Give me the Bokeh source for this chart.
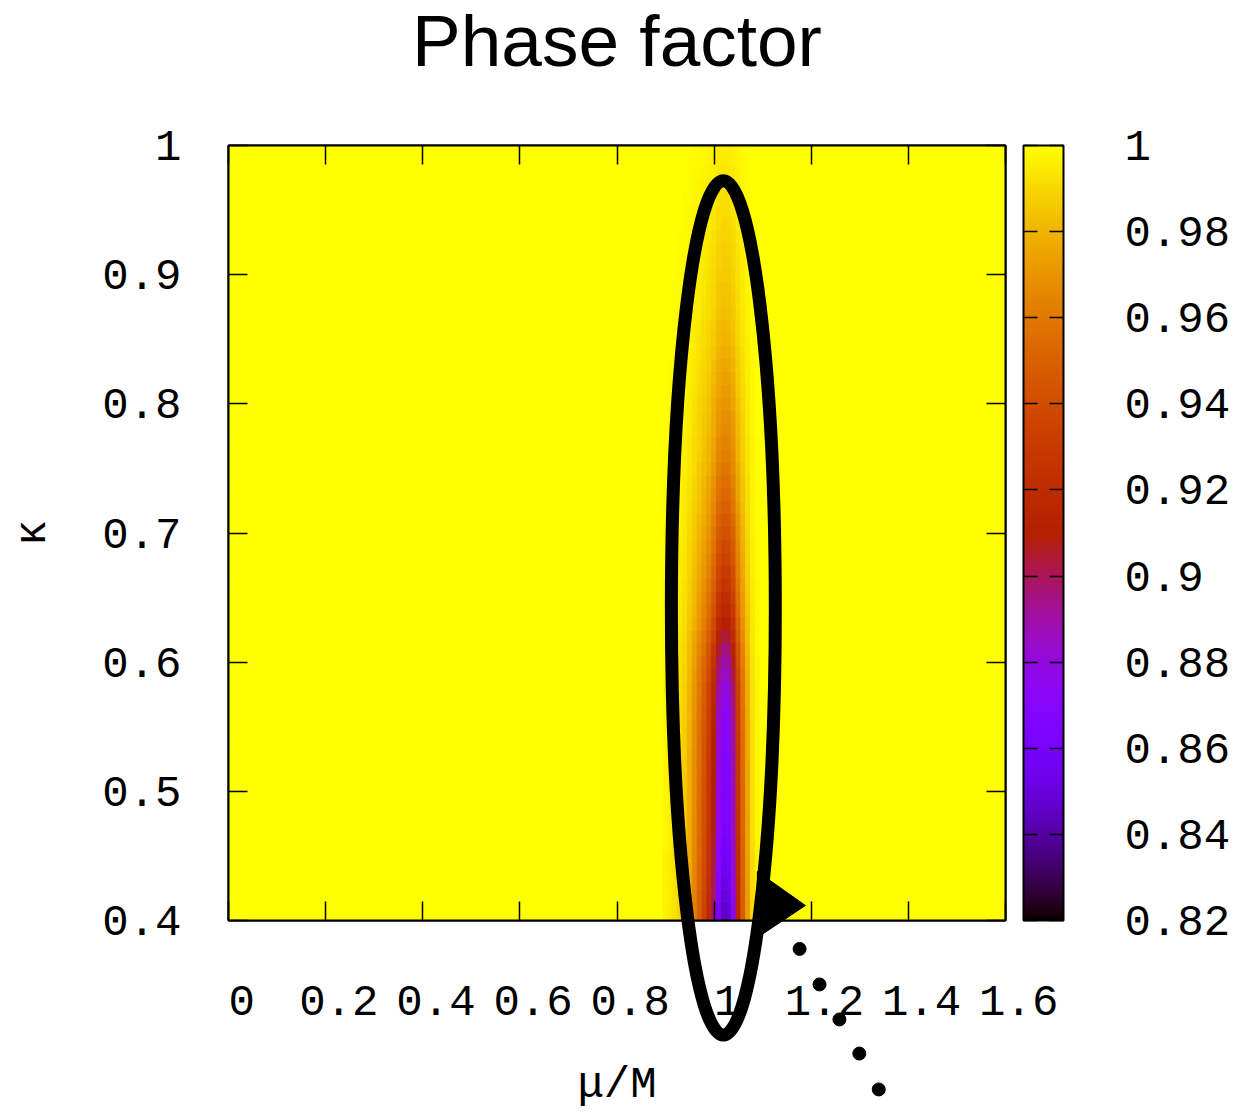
import numpy as np
from bokeh.plotting import figure
from bokeh.layouts import column
from bokeh.models import (LinearAxis, FixedTicker, CustomJSTickFormatter, ColorBar,
                          LinearColorMapper, ColumnDataSource, Range1d, Label)
from bokeh.transform import linear_cmap
from bokeh.embed import file_html
from bokeh.resources import INLINE

# ---------------- data ----------------
# grid of the map (step 0.01 in both directions)
mu_grid = [round(0.01 * i, 2) for i in range(161)]          # mu/M : 0 ... 1.6
kappa_grid = [round(0.40 + 0.01 * i, 2) for i in range(61)]  # kappa : 0.4 ... 1.0

# phase factor at the centre of the dip, one value per kappa row (0.40 ... 1.00)
row_min = [0.845, 0.847, 0.850, 0.853, 0.856, 0.858, 0.860, 0.862, 0.863, 0.864,
           0.865, 0.866, 0.867, 0.868, 0.869, 0.871, 0.873, 0.876, 0.879, 0.884,
           0.889, 0.895, 0.903, 0.910, 0.916, 0.921, 0.926, 0.930, 0.934, 0.938,
           0.942, 0.946, 0.950, 0.953, 0.956, 0.959, 0.962, 0.964, 0.966, 0.968,
           0.970, 0.972, 0.974, 0.976, 0.978, 0.980, 0.981, 0.983, 0.984, 0.985,
           0.986, 0.987, 0.988, 0.989, 0.990, 0.991, 0.992, 0.993, 0.994, 0.995, 0.996]

# relative depth of the dip across the mu/M columns near 1 (zero elsewhere)
profile_mu = [0.90, 0.91, 0.92, 0.93, 0.94, 0.95, 0.96, 0.97, 0.98, 0.99,
              1.00, 1.01, 1.02, 1.03, 1.04, 1.05, 1.06, 1.07, 1.08, 1.09]
profile_w = [0.02, 0.03, 0.05, 0.07, 0.10, 0.16, 0.24, 0.33, 0.42, 0.53,
             0.68, 0.90, 1.00, 0.99, 0.84, 0.55, 0.34, 0.18, 0.06, 0.02]

x_ticks = [0, 0.2, 0.4, 0.6, 0.8, 1.0, 1.2, 1.4, 1.6]
y_ticks = [0.4, 0.5, 0.6, 0.7, 0.8, 0.9, 1.0]
cb_ticks = [0.82, 0.84, 0.86, 0.88, 0.90, 0.92, 0.94, 0.96, 0.98, 1.0]
cb_low, cb_high = 0.82, 1.0
x_lim = (0.0, 1.6)
y_lim = (0.4, 1.0)

# hand-drawn annotation: ellipse (centre, full width/height), arrow head, trailing dots
ell_x, ell_y = 1.019, 0.642
ell_w, ell_h = 0.214, 0.662
arrow_x = [1.089, 1.188, 1.089]
arrow_y = [0.4379, 0.4116, 0.3868]
dots_x = [1.176, 1.217, 1.258, 1.299, 1.339]
dots_y = [0.378, 0.3505, 0.3234, 0.297, 0.2692]

# ---------------- layout (pixels) ----------------
W, H = 1242, 1114
B_LEFT, B_RIGHT, B_TOP, B_BOTTOM = 228, 237, 145, 194
FRAME_W, FRAME_H = W - B_LEFT - B_RIGHT, H - B_TOP - B_BOTTOM

# ---------------- palette (gnuplot pm3d 7,5,15) ----------------
def gnuplot_palette(n=256):
    cols = []
    for k in range(n):
        t = k / (n - 1)
        r = np.sqrt(t)
        g = t ** 3
        b = max(0.0, np.sin(2 * np.pi * t))
        cols.append('#%02x%02x%02x' % (int(round(r * 255)), int(round(g * 255)), int(round(b * 255))))
    return cols

palette = gnuplot_palette()

# ---------------- build the cell table ----------------
w_of_mu = dict(zip(profile_mu, profile_w))
xs, ys, vs = [], [], []
for i, k in enumerate(kappa_grid):
    depth = 1.0 - row_min[i]
    for m in mu_grid:
        xs.append(m)
        ys.append(k)
        vs.append(1.0 - depth * w_of_mu.get(m, 0.0))
src = ColumnDataSource(dict(mu=xs, kappa=ys, v=vs))

FONT_MONO = "Liberation Mono"
TICK_FS = "44px"

fmt = CustomJSTickFormatter(code="return tick.toFixed(2).replace(/0+$/, '').replace(/\\.$/, '');")
fmt_x = CustomJSTickFormatter(code="return '\\u00a0' + tick.toFixed(2).replace(/0+$/, '').replace(/\\.$/, '');")
fmt_none = CustomJSTickFormatter(code="return '';")

p = figure(width=W, height=H, x_range=Range1d(*x_lim), y_range=Range1d(*y_lim),
           output_backend="svg", toolbar_location=None,
           min_border_left=B_LEFT, min_border_right=B_RIGHT,
           min_border_top=B_TOP, min_border_bottom=B_BOTTOM)
p.grid.visible = False
p.outline_line_color = "black"
p.outline_line_width = 2
p.background_fill_color = "white"
p.border_fill_color = "white"

cmap = linear_cmap('v', palette, cb_low, cb_high)
p.rect(x='mu', y='kappa', width=0.01, height=0.01, source=src,
       fill_color=cmap, line_color=cmap, line_width=1)

def style_axis(ax, ticks, formatter, show_labels=True):
    ax.ticker = FixedTicker(ticks=ticks)
    ax.formatter = formatter
    ax.major_tick_in = 19
    ax.major_tick_out = 0
    ax.major_tick_line_width = 1.5
    ax.major_tick_line_color = "black"
    ax.minor_tick_line_color = None
    ax.axis_line_width = 2
    ax.axis_line_color = "black"
    ax.major_label_text_font = FONT_MONO
    ax.major_label_text_font_size = TICK_FS if show_labels else "0px"
    ax.major_label_text_color = "black"
    ax.axis_label_text_color = "black"
    if not show_labels:
        ax.major_label_standoff = 0

xa = p.xaxis[0]
style_axis(xa, x_ticks, fmt_x)
xa.major_label_standoff = 57
xa.axis_label = "μ/M"
xa.axis_label_text_font = FONT_MONO
xa.axis_label_text_font_size = TICK_FS
xa.axis_label_text_font_style = "normal"
xa.axis_label_standoff = 29

ya = p.yaxis[0]
style_axis(ya, y_ticks, fmt)
ya.major_label_standoff = 47
ya.axis_label = "κ"
ya.axis_label_text_font = FONT_MONO
ya.axis_label_text_font_size = TICK_FS
ya.axis_label_text_font_style = "normal"
ya.axis_label_standoff = 41

top_ax = LinearAxis()
style_axis(top_ax, x_ticks, fmt_none, show_labels=False)
p.add_layout(top_ax, "above")
right_ax = LinearAxis()
style_axis(right_ax, y_ticks, fmt_none, show_labels=False)
p.add_layout(right_ax, "right")

# colour bar
mapper = LinearColorMapper(palette=palette, low=cb_low, high=cb_high)
cb = ColorBar(color_mapper=mapper, ticker=FixedTicker(ticks=cb_ticks), formatter=fmt,
              width=40, height=FRAME_H, location=(FRAME_W + 18, 0), padding=0, margin=0,
              major_tick_in=40, major_tick_out=0, major_tick_line_color="black",
              major_tick_line_width=1.5, major_tick_line_dash="14 12",
              minor_tick_line_color=None,
              bar_line_color="black", bar_line_width=2,
              border_line_color=None, background_fill_alpha=0,
              label_standoff=61, major_label_text_font=FONT_MONO,
              major_label_text_font_size=TICK_FS, major_label_text_color="black")
p.add_layout(cb, "center")

# ---------------- transparent overlay for the hand-drawn marks and the title ----------------
# same horizontal frame as the main plot; vertically it spans the whole page, with the
# y range chosen so that data units line up with the main plot's frame
sy = (y_lim[1] - y_lim[0]) / FRAME_H
ov = figure(width=W, height=H,
            x_range=Range1d(*x_lim),
            y_range=Range1d(y_lim[0] - B_BOTTOM * sy, y_lim[1] + B_TOP * sy),
            output_backend="svg", toolbar_location=None,
            x_axis_location=None, y_axis_location=None,
            min_border_left=B_LEFT, min_border_right=B_RIGHT,
            min_border_top=0, min_border_bottom=0)
ov.grid.visible = False
ov.outline_line_color = None
ov.background_fill_color = None
ov.border_fill_color = None
ov.margin = (-H, 0, 0, 0)

ov.ellipse(x=[ell_x], y=[ell_y], width=[ell_w], height=[ell_h],
           fill_color=None, line_color="black", line_width=13)
ov.patch(arrow_x, arrow_y, fill_color="black", line_color="black", line_width=1)
ov.scatter(dots_x, dots_y, size=13, marker="circle", fill_color="black", line_color="black")

ov.add_layout(Label(x=(x_lim[0] + x_lim[1]) / 2, y=H - 40, x_units="data", y_units="screen",
                    text="Phase factor", text_align="center", text_baseline="alphabetic",
                    text_font="Liberation Sans", text_font_size="73px", text_color="black"))

layout = column(p, ov, spacing=0)
open("out.html", "w").write(file_html(layout, INLINE))
